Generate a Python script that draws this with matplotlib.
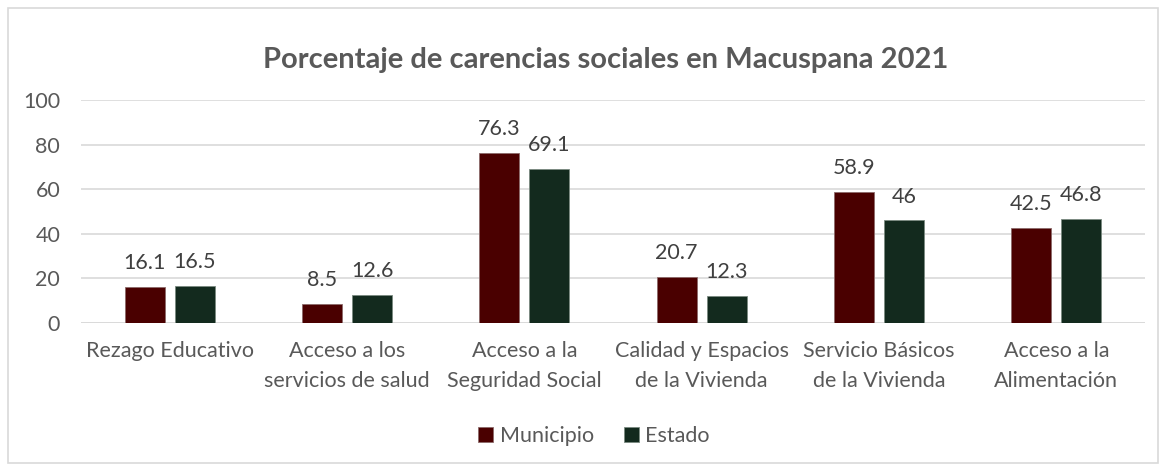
import matplotlib
matplotlib.use("Agg")
import matplotlib.pyplot as plt
from matplotlib.patches import Rectangle
import numpy as np

categories = ["Rezago Educativo", "Acceso a los\nservicios de salud", "Acceso a la\nSeguridad Social",
              "Calidad y Espacios\nde la Vivienda", "Servicio Básicos\nde la Vivienda", "Acceso a la\nAlimentación"]
municipio = [16.1, 8.5, 76.3, 20.7, 58.9, 42.5]
estado = [16.5, 12.6, 69.1, 12.3, 46, 46.8]
labels_mun = ["16.1", "8.5", "76.3", "20.7", "58.9", "42.5"]
labels_est = ["16.5", "12.6", "69.1", "12.3", "46", "46.8"]
yticks = [0, 20, 40, 60, 80, 100]

plt.rcParams['font.family'] = ['Lato', 'DejaVu Sans']
W, H = 1164, 470
fig = plt.figure(figsize=(W/100, H/100), dpi=100)
fig.patches.append(Rectangle((8/W, 7/H), 1150/W, 455/H, transform=fig.transFigure,
                             fill=False, edgecolor="#d9d9d9", linewidth=1.2))

ax = fig.add_axes([81/W, 1-323/H, (1145-81)/W, (323-100)/H])
x = np.arange(len(categories))
bw = 0.226
off = 0.141
c_mun = "#4a0000"
c_est = "#132a1e"
fs = 15.5
b1 = ax.bar(x - off, municipio, bw, color=c_mun, edgecolor="#8c6a6a", linewidth=0.6, label="Municipio", zorder=3)
b2 = ax.bar(x + off, estado, bw, color=c_est, edgecolor="#7a8a80", linewidth=0.6, label="Estado", zorder=3)
ax.bar_label(b1, labels=labels_mun, padding=10, fontsize=fs, color="#404040")
ax.bar_label(b2, labels=labels_est, padding=10, fontsize=fs, color="#404040")

ax.set_xlim(-0.5, len(categories) - 0.5)
ax.set_ylim(0, 100)
ax.set_yticks(yticks)
ax.set_yticklabels([str(v) for v in yticks], fontsize=fs, color="#595959")
ax.set_xticks(x)
ax.set_xticklabels(categories, fontsize=fs, color="#595959", linespacing=1.6)
ax.tick_params(axis="both", length=0)
ax.tick_params(axis="y", pad=15)
ax.tick_params(axis="x", pad=13)
ax.grid(axis="y", color="#d9d9d9", linewidth=1.2, zorder=0)
for s in ax.spines.values():
    s.set_visible(False)
ax.axhline(0, color="#d9d9d9", linewidth=1.2, zorder=1)

fig.text(606/W, 1-60/H, "Porcentaje de carencias sociales en Macuspana 2021", ha="center", va="center",
         fontsize=21, fontweight="bold", color="#595959")

fig.legend(handles=[b1, b2], labels=["Municipio", "Estado"], loc="center", bbox_to_anchor=(594/W, 1-436/H),
           ncol=2, frameon=False, fontsize=fs, labelcolor="#595959", handlelength=0.7, handleheight=0.7,
           handletextpad=0.3, columnspacing=1.4)

fig.savefig("out.png", dpi=100)
